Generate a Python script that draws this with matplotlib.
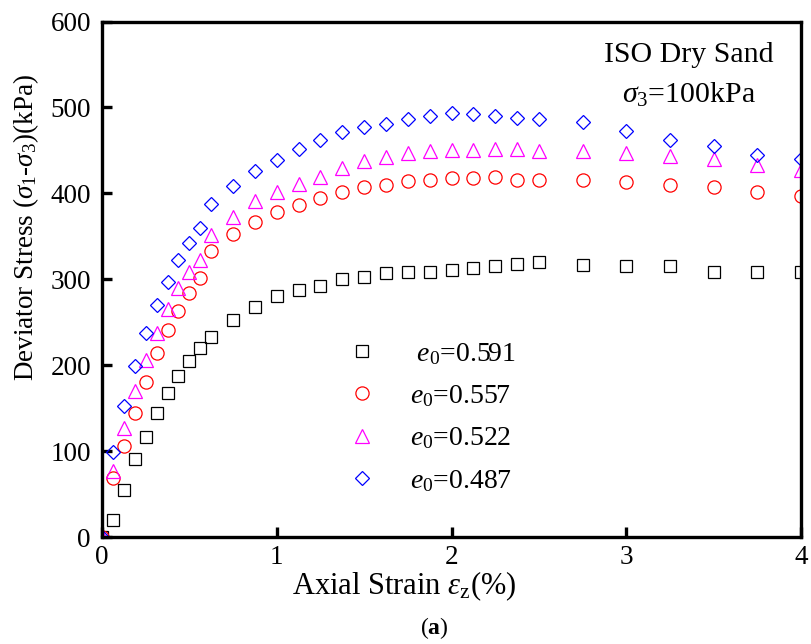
import numpy as np
import matplotlib
matplotlib.use('Agg')
import matplotlib.pyplot as plt

plt.rcParams['font.family'] = ['Liberation Serif', 'DejaVu Serif']
plt.rcParams['mathtext.fontset'] = 'custom'
plt.rcParams['mathtext.rm'] = 'Liberation Serif'
plt.rcParams['mathtext.it'] = 'Liberation Serif:italic'
plt.rcParams['mathtext.bf'] = 'Liberation Serif:bold'

# axial strain (%)
strain = [0, 0.0625, 0.125, 0.1875, 0.25, 0.3125, 0.375, 0.4375, 0.5, 0.5625, 0.625,
          0.75, 0.875, 1.0, 1.125, 1.25, 1.375, 1.5, 1.625, 1.75, 1.875,
          2.0, 2.125, 2.25, 2.375, 2.5, 2.75, 3.0, 3.25, 3.5, 3.75, 4.0]

# deviator stress (kPa) for each initial void ratio
q_0591 = [0, 20, 55, 91, 117, 144, 168, 187, 205, 220, 233,
          253, 268, 280, 287, 292, 300, 303, 307, 308, 309,
          311, 313, 316, 318, 320, 317, 316, 315, 308, 308, 309]
q_0557 = [0, 69, 106, 144, 181, 214, 241, 263, 284, 302, 333,
          353, 367, 378, 387, 395, 402, 407, 410, 414, 415,
          418, 418, 419, 416, 416, 415, 413, 410, 407, 401, 397]
q_0522 = [0, 77, 127, 170, 206, 237, 265, 290, 309, 323, 352,
          372, 391, 401, 411, 419, 429, 438, 442, 447, 449,
          450, 451, 452, 452, 449, 449, 447, 443, 440, 433, 427]
q_0487 = [0, 99, 153, 199, 237, 270, 297, 322, 342, 360, 388,
          409, 426, 439, 452, 462, 471, 477, 481, 486, 490,
          493, 492, 490, 488, 486, 483, 472, 462, 455, 445, 440]

labels = [' $e_0$=0.591', '$e_0$=0.557', '$e_0$=0.522', '$e_0$=0.487']

fig = plt.figure(figsize=(8.11, 6.44), dpi=100)
ax = fig.add_axes([0.1258, 0.1661, 0.8619, 0.8005])

ax.plot(strain, q_0591, 's', ms=8, mfc='none', mec='black', mew=0.9, label=labels[0])
ax.plot(strain, q_0557, 'o', ms=9.5, mfc='none', mec='red', mew=0.9, label=labels[1])
ax.plot(strain, q_0522, '^', ms=10, mfc='none', mec='magenta', mew=0.9, label=labels[2])
ax.plot(strain, q_0487, 'D', ms=7.5, mfc='none', mec='blue', mew=0.9, label=labels[3])

ax.set_xlim(0, 4)
ax.set_ylim(0, 600)
ax.set_xticks([0, 1, 2, 3, 4])
ax.set_yticks([0, 100, 200, 300, 400, 500, 600])

for sp in ax.spines.values():
    sp.set_linewidth(2.4)
ax.tick_params(direction='in', length=7, width=2.4, labelsize=19.5)
ax.tick_params(axis='x', pad=6)
ax.tick_params(axis='y', pad=8)

ax.set_xlabel(r'Axial Strain $\varepsilon_{\mathrm{z}}$(%)', fontsize=22)
ax.xaxis.set_label_coords(0.433, -0.062)
ax.set_ylabel(r'Deviator Stress ($\sigma_1$-$\sigma_3$)(kPa)', fontsize=19.5)
ax.yaxis.set_label_coords(-0.087, 0.60)

ax.text(0.84, 0.935, 'ISO Dry Sand', transform=ax.transAxes, fontsize=21.5,
        ha='center', va='center')
ax.text(0.84, 0.857, r'$\sigma_3$=100kPa', transform=ax.transAxes, fontsize=21.5,
        ha='center', va='center')

ax.legend(loc='upper left', bbox_to_anchor=(0.306, 0.429), frameon=False,
          fontsize=20, handletextpad=0.98, labelspacing=0.59, handlelength=1.5)

fig.text(0.535, 0.025, r'($\mathbf{a}$)', fontsize=17, ha='center', va='center')

fig.savefig('out.png', dpi=100)
